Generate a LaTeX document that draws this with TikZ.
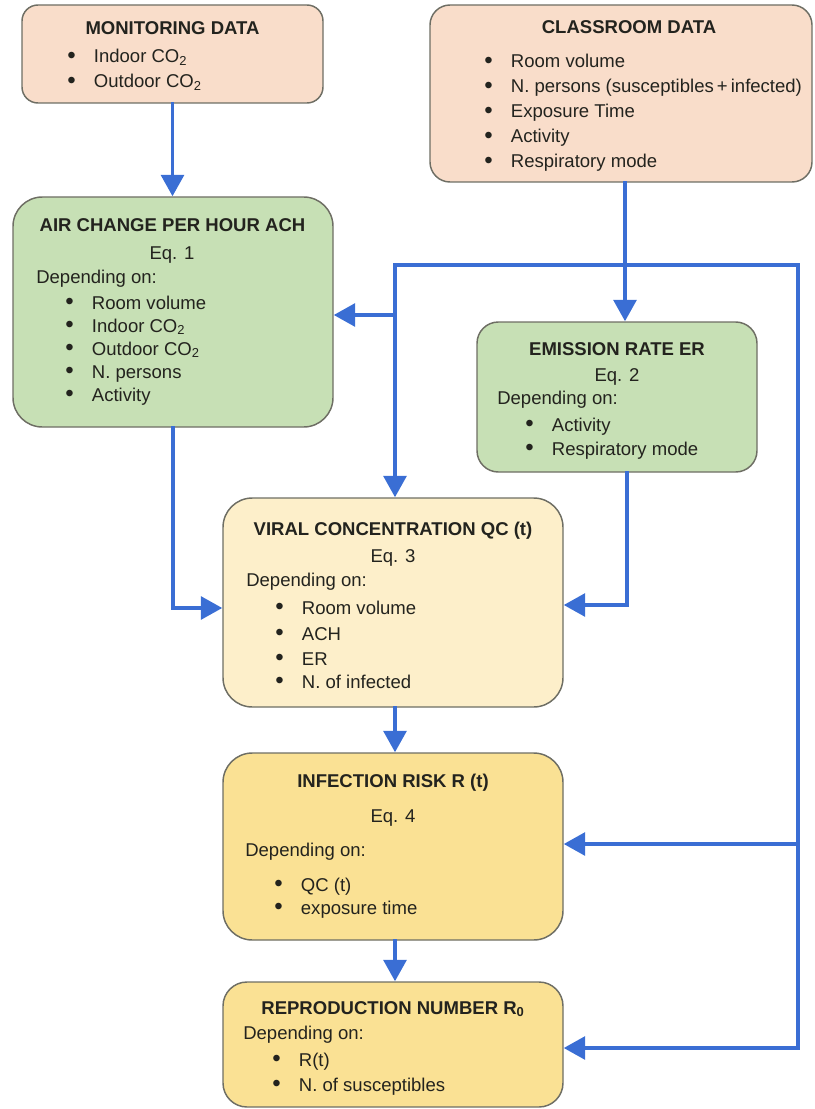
\documentclass[tikz,border=0pt]{standalone}
\usepackage{fontspec}
\usepackage{graphicx}
\setmainfont{Liberation Sans}
\usetikzlibrary{arrows.meta}
\definecolor{peach}{RGB}{249,221,202}
\definecolor{leaf}{RGB}{199,224,181}
\definecolor{cream}{RGB}{253,239,202}
\definecolor{gold}{RGB}{250,225,148}
\definecolor{flowblue}{RGB}{58,110,212}
\definecolor{edgegray}{RGB}{110,110,100}
\definecolor{ink}{RGB}{35,35,30}
\newcommand{\pxl}{0.75pt}
\newcommand{\boxfont}{\fontsize{13.9pt}{16pt}\selectfont}
\newcommand{\bul}{\makebox[20pt][l]{\raisebox{-0.4pt}{\scalebox{1.3}{\textbullet}}}}

\begin{document}
\begin{tikzpicture}[x=0.75pt,y=-0.75pt,
  box/.style={draw=edgegray, line width=1.1pt, inner sep=0pt},
  ttl/.style={anchor=base, inner sep=0pt, text=ink, font=\boxfont\bfseries},
  eqn/.style={anchor=base, inner sep=0pt, text=ink, font=\boxfont},
  txt/.style={anchor=base west, inner sep=0pt, text=ink, font=\boxfont},
  wire/.style={draw=flowblue, line width=2.8pt, line cap=rect},
  flow/.style={wire, -{Triangle[length=16pt,width=17pt]}}]

        \useasboundingbox (0,0) rectangle (814,1109);

        % boxes
        \node (mon) at (172.5,54) [box, fill=peach, rounded corners=12pt, minimum width=301*\pxl, minimum height=98*\pxl] {};
        \node (cls) at (621,93.5) [box, fill=peach, rounded corners=15pt, minimum width=382*\pxl, minimum height=177*\pxl] {};
        \node (ach) at (173,312) [box, fill=leaf, rounded corners=22pt, minimum width=320*\pxl, minimum height=230*\pxl] {};
        \node (er) at (617,397) [box, fill=leaf, rounded corners=16pt, minimum width=280*\pxl, minimum height=150*\pxl] {};
        \node (vc) at (393,602.5) [box, fill=cream, rounded corners=22pt, minimum width=340*\pxl, minimum height=209*\pxl] {};
        \node (inf) at (393,846.5) [box, fill=gold, rounded corners=22pt, minimum width=340*\pxl, minimum height=187*\pxl] {};
        \node (rep) at (393,1044.5) [box, fill=gold, rounded corners=18pt, minimum width=340*\pxl, minimum height=125*\pxl] {};

        % monitoring data
        \node (monT) at (172.5,35) [ttl] {MONITORING DATA};
        \node (mon1) at (67,63) [txt] {\bul Indoor CO\textsubscript{2}};
        \node (mon2) at (67,88) [txt] {\bul Outdoor CO\textsubscript{2}};

        % classroom data
        \node (clsT) at (629,34) [ttl] {CLASSROOM DATA};
        \node (cls1) at (484,68) [txt] {\bul Room volume};
        \node (cls2) at (484,93) [txt] {\bul N. persons (susceptibles\,+\,infected)};
        \node (cls3) at (484,118) [txt] {\bul Exposure Time};
        \node (cls4) at (484,143) [txt] {\bul Activity};
        \node (cls5) at (484,168) [txt] {\bul Respiratory mode};

        % air change
        \node (achT) at (172.5,232) [ttl] {AIR CHANGE PER HOUR ACH};
        \node (achE) at (172,259) [eqn] {Eq. 1};
        \node (achD) at (36,283) [txt] {Depending on:};
        \node (ach1) at (65,309) [txt] {\bul Room volume};
        \node (ach2) at (65,332) [txt] {\bul Indoor CO\textsubscript{2}};
        \node (ach3) at (65,355) [txt] {\bul Outdoor CO\textsubscript{2}};
        \node (ach4) at (65,378) [txt] {\bul N. persons};
        \node (ach5) at (65,401) [txt] {\bul Activity};

        % emission rate
        \node (erT) at (617,355) [ttl] {EMISSION RATE ER};
        \node (erE) at (617,381) [eqn] {Eq. 2};
        \node (erD) at (497,404) [txt] {Depending on:};
        \node (er1) at (525,431) [txt] {\bul Activity};
        \node (er2) at (525,455) [txt] {\bul Respiratory mode};

        % viral concentration
        \node (vcT) at (393,535) [ttl] {VIRAL CONCENTRATION QC (t)};
        \node (vcE) at (393,562) [eqn] {Eq. 3};
        \node (vcD) at (246,586) [txt] {Depending on:};
        \node (vc1) at (275,614) [txt] {\bul Room volume};
        \node (vc2) at (275,640) [txt] {\bul ACH};
        \node (vc3) at (275,665) [txt] {\bul ER};
        \node (vc4) at (275,688) [txt] {\bul N. of infected};

        % infection risk
        \node (infT) at (393,787) [ttl] {INFECTION RISK R (t)};
        \node (infE) at (393,822) [eqn] {Eq. 4};
        \node (infD) at (245,856) [txt] {Depending on:};
        \node (inf1) at (274,891) [txt] {\bul QC (t)};
        \node (inf2) at (274,914) [txt] {\bul exposure time};

        % reproduction number
        \node (repT) at (393,1014) [ttl] {REPRODUCTION NUMBER R\textsubscript{0}};
        \node (repD) at (243,1039) [txt] {Depending on:};
        \node (rep1) at (272,1066) [txt] {\bul R(t)};
        \node (rep2) at (272,1091) [txt] {\bul N. of susceptibles};

        % connectors
        \coordinate (j0) at (395,265);
        \coordinate (j1) at (625,265);
        \coordinate (j2) at (395,315);
        \coordinate (j3) at (798,265);
        \coordinate (ri) at (798,844);
        \coordinate (rb) at (798,1048);
        \coordinate (achdn) at (173,608);
        \coordinate (erdn) at (627,605);

        \draw[flow] (mon.south) -- (mon.south |- ach.north);
        \draw[flow] (cls.south -| j1) -- (j1 |- er.north);
        \draw[flow] (j0) -- (j3) -- (rb) -- (rb -| rep.east);
        \draw[flow] (j0) -- (j0 |- vc.north);
        \draw[flow] (j2) -- (j2 -| ach.east);
        \draw[flow] (ri) -- (ri -| inf.east);
        \draw[flow] (ach.south) -- (achdn) -- (achdn -| vc.west);
        \draw[flow] (er.south -| erdn) -- (erdn) -- (erdn -| vc.east);
        \draw[flow] (vc.south -| j0) -- (j0 |- inf.north);
        \draw[flow] (inf.south -| j0) -- (j0 |- rep.north);
        \end{tikzpicture}
\end{document}
